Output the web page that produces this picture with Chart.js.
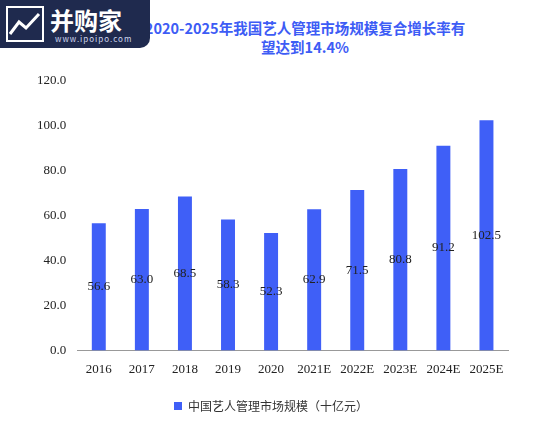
<!DOCTYPE html>
<html><head><meta charset="utf-8">
<script src="https://cdn.jsdelivr.net/npm/chart.js@4"></script>
<style>
body{margin:0;background:#fff;width:560px;height:425px;overflow:hidden;position:relative;font-family:"Noto Sans CJK SC",sans-serif}
#title{position:absolute;left:110px;width:390px;top:18px;text-align:center;color:#3d5cf5;font-weight:bold;font-size:14.5px;line-height:19px}
#logo{position:absolute;z-index:2;left:0;top:0;width:150px;height:48px;background:#1f2a4e;border-radius:0 0 10px 0;color:#fff}
#logo .a{position:absolute;left:50px;top:2px;font-size:24px;font-weight:bold}
#logo .b{position:absolute;left:55px;top:33px;font-size:8px;letter-spacing:1px;color:#cfd6ee}
#wrap{position:absolute;left:0;top:60px;width:560px;height:365px}
</style></head><body>
<div id="title">2020-2025年我国艺人管理市场规模复合增长率有<br>望达到14.4%</div>
<div id="logo"><svg style="position:absolute;left:6px;top:6px" width="38" height="36"><rect x="1" y="1" width="36" height="34" fill="none" stroke="#fff" stroke-width="2"/><polyline points="4,28 13,16 20,22 33,8" fill="none" stroke="#fff" stroke-width="3"/></svg><span class="a">并购家</span><span class="b">www.ipoipo.com</span></div>
<div id="wrap"><canvas id="c"></canvas></div>
<script>
const categories=["2016","2017","2018","2019","2020","2021E","2022E","2023E","2024E","2025E"];
const values=[56.6,63.0,68.5,58.3,52.3,62.9,71.5,80.8,91.2,102.5];
const seriesName="中国艺人管理市场规模（十亿元）";
const labelPlugin={id:'lbl',afterDatasetsDraw(ch){const ctx=ch.ctx;const m=ch.getDatasetMeta(0);ctx.save();ctx.font='13px "Liberation Serif"';ctx.fillStyle='#222';ctx.textAlign='center';ctx.textBaseline='middle';
m.data.forEach((b,i)=>{ctx.fillText(values[i].toFixed(1),b.x,(b.y+b.base)/2);});ctx.restore();}};
new Chart(document.getElementById('c'),{type:'bar',data:{labels:categories,datasets:[{label:seriesName,data:values,backgroundColor:'#3f5ff7',barPercentage:0.36,categoryPercentage:0.9}]},
options:{responsive:true,maintainAspectRatio:false,animation:false,
layout:{padding:{left:34,right:52,top:21,bottom:3}},
plugins:{legend:{position:'bottom',labels:{boxWidth:8,boxHeight:8,color:'#333',font:{size:12,family:'"Noto Sans CJK SC"'},padding:20}},tooltip:{enabled:false}},
scales:{y:{min:0,max:120,ticks:{stepSize:20,color:'#222',font:{size:13,family:'"Liberation Serif"'},callback:v=>v.toFixed(1)},grid:{display:false},border:{display:false}},
x:{ticks:{color:'#222',font:{size:13,family:'"Liberation Serif"'}},grid:{display:false},border:{color:'#999'}}}},
plugins:[labelPlugin]});
</script></body></html>
